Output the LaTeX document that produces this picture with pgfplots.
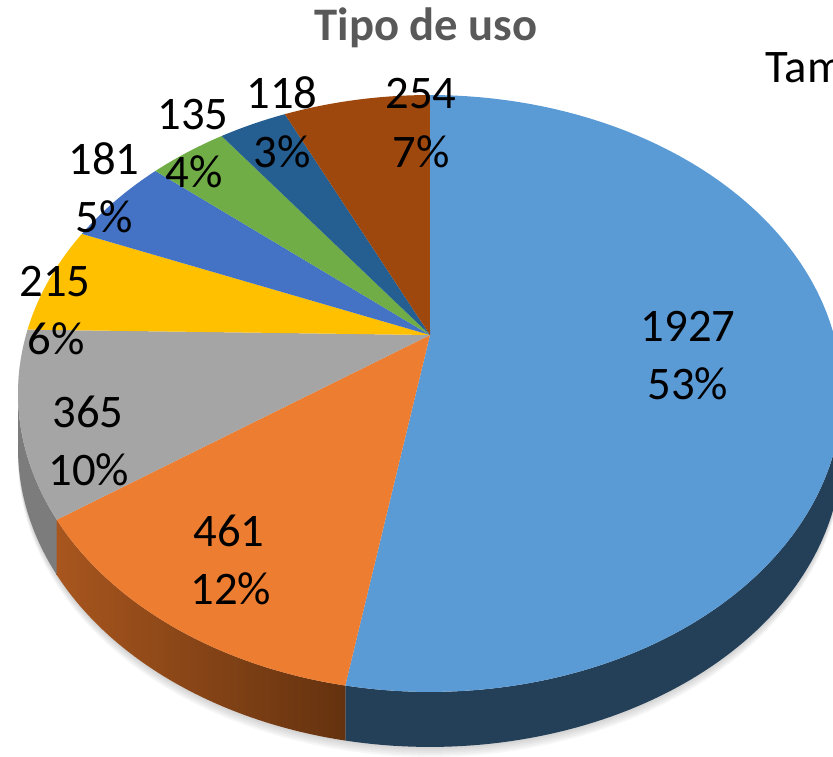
\documentclass[border=0pt]{standalone}
\usepackage{pgfplots}
\pgfplotsset{compat=1.18}
\usepackage{pgfplotstable}
\usepackage{fontspec}
\setmainfont{Carlito}
\definecolor{slice0}{HTML}{5B9BD5}
\definecolor{slice1}{HTML}{ED7D31}
\definecolor{slice2}{HTML}{A5A5A5}
\definecolor{slice3}{HTML}{FFC000}
\definecolor{slice4}{HTML}{4472C4}
\definecolor{slice5}{HTML}{70AD47}
\definecolor{slice6}{HTML}{255E91}
\definecolor{slice7}{HTML}{9E480E}
\definecolor{sideA}{HTML}{243F58}
\definecolor{sideB1}{HTML}{A8561E}
\definecolor{sideB2}{HTML}{64320F}
\definecolor{sideC}{HTML}{7C7C7C}
\definecolor{titlegray}{HTML}{595959}

% value, label positions (pixel coords, y downward), displayed percent
\pgfplotstableread{
value lx ly pct px py
1927 688 342 53 688 400
461 229 547 12 231 605
365 88 428 10 89 486
215 55 297 6 56 355
181 104 175 5 104 233
135 193 130 4 194 188
118 282 109 3 282 168
254 421 109 7 421 168
}\piedata

\begin{document}
\begin{tikzpicture}
\def\total{0}
\pgfplotsforeachungrouped \i in {0,...,7}{%
  \pgfplotstablegetelem{\i}{value}\of\piedata
  \pgfmathsetmacro\total{\total+\pgfplotsretval}%
}
\xdef\total{\total}
\def\cum{0}
\pgfplotsforeachungrouped \i in {0,...,7}{%
  \pgfplotstablegetelem{\i}{value}\of\piedata
  \expandafter\xdef\csname aS\i\endcsname{\cum}%
  \pgfmathsetmacro\cum{\cum+360*(\pgfplotsretval/\total)}%
  \expandafter\xdef\csname aE\i\endcsname{\cum}%
}
\expandafter\let\expandafter\endBlue\csname aE0\endcsname
\expandafter\let\expandafter\startOrange\csname aS1\endcsname
\expandafter\let\expandafter\endOrange\csname aE1\endcsname
\expandafter\let\expandafter\startGray\csname aS2\endcsname
\path[use as bounding box, clip] (0,0) rectangle (249.9pt,227.1pt);
\begin{axis}[
  x=0.3pt, y=0.3pt,
  xmin=0, xmax=833, ymin=0, ymax=757,
  y dir=reverse,
  hide axis, clip=false,
  at={(0,0)}, anchor=south west,
]
% soft shadow
\pgfplotsinvokeforeach{2,4,6,8,10}{
  \fill[black, opacity=0.035] plot[domain=96:264, samples=80, variable=\t]
    ({430+404*sin(\t)/(1+0.196*cos(\t))},{335-287*cos(\t)/(1+0.196*cos(\t))+55+#1})
    -- plot[domain=264:96, samples=80, variable=\t]
    ({430+404*sin(\t)/(1+0.196*cos(\t))},{335-287*cos(\t)/(1+0.196*cos(\t))}) -- cycle;
}
% side walls
\fill[sideA] plot[domain=101.3:\endBlue, samples=80, variable=\t]
    ({430+404*sin(\t)/(1+0.196*cos(\t))},{335-287*cos(\t)/(1+0.196*cos(\t))})
    -- plot[domain=\endBlue:101.3, samples=80, variable=\t]
    ({430+404*sin(\t)/(1+0.196*cos(\t))},{335-287*cos(\t)/(1+0.196*cos(\t))+55}) -- cycle;
\shade[left color=sideB1, right color=sideB2] plot[domain=\startOrange:\endOrange, samples=60, variable=\t]
    ({430+404*sin(\t)/(1+0.196*cos(\t))},{335-287*cos(\t)/(1+0.196*cos(\t))})
    -- plot[domain=\endOrange:\startOrange, samples=60, variable=\t]
    ({430+404*sin(\t)/(1+0.196*cos(\t))},{335-287*cos(\t)/(1+0.196*cos(\t))+55}) -- cycle;
\fill[sideC] plot[domain=\startGray:258.7, samples=40, variable=\t]
    ({430+404*sin(\t)/(1+0.196*cos(\t))},{335-287*cos(\t)/(1+0.196*cos(\t))})
    -- plot[domain=258.7:\startGray, samples=40, variable=\t]
    ({430+404*sin(\t)/(1+0.196*cos(\t))},{335-287*cos(\t)/(1+0.196*cos(\t))+55}) -- cycle;
% top faces
\pgfplotsforeachungrouped \i in {0,...,7}{%
  \edef\temp{\noexpand\addplot[fill=slice\i, draw=none, domain=\csname aS\i\endcsname:\csname aE\i\endcsname, samples=90]
    ({430+404*sin(x)/(1+0.196*cos(x))},{335-287*cos(x)/(1+0.196*cos(x))}) -- (axis cs:430,335) -- cycle;}%
  \temp
}
% labels
\addplot[draw=none, mark=none, nodes near coords, point meta=explicit symbolic,
  every node near coord/.append style={anchor=base, inner sep=0pt, font=\fontsize{14}{17}\selectfont, text=black}]
  table[x=lx, y=ly, meta=value]{\piedata};
\addplot[draw=none, mark=none, nodes near coords={\pgfplotspointmeta\%}, point meta=explicit symbolic,
  every node near coord/.append style={anchor=base, inner sep=0pt, font=\fontsize{14}{17}\selectfont, text=black}]
  table[x=px, y=py, meta=pct]{\piedata};
\node[anchor=base, inner sep=0pt, font=\fontsize{14}{17}\selectfont\bfseries, text=titlegray] at (axis cs:426,41) {Tipo de uso};
\node[anchor=base west, inner sep=0pt, font=\fontsize{14}{17}\selectfont, text=black] at (axis cs:765,83) {Tamaño};
\end{axis}
\end{tikzpicture}
\end{document}
